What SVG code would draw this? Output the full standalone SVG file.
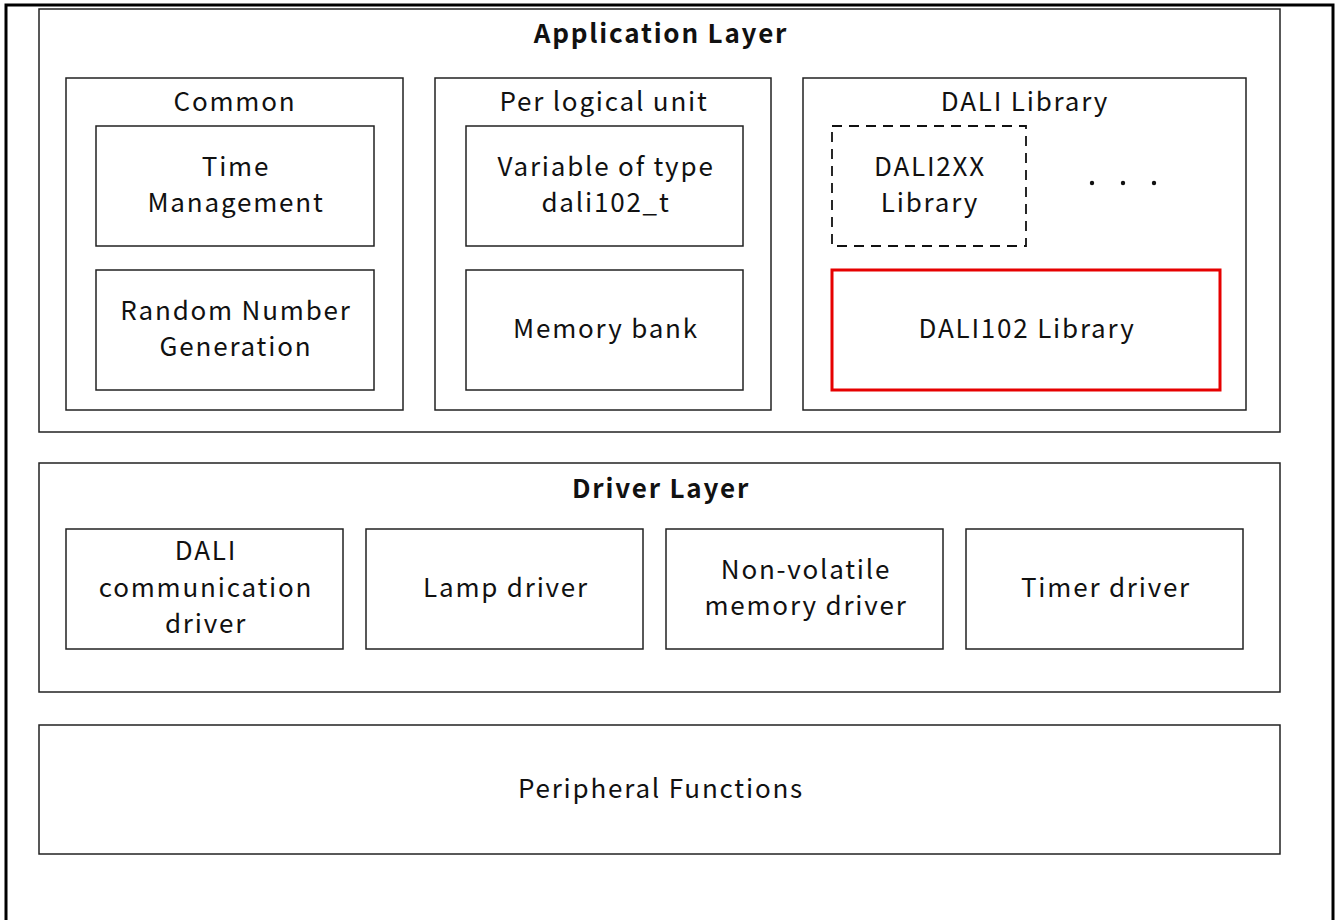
<svg xmlns="http://www.w3.org/2000/svg" width="1335" height="920" viewBox="0 0 1335 920">
<style>
.box{fill:#fff;stroke:#222;stroke-width:1.5}
.dash{fill:#fff;stroke:#111;stroke-width:1.8;stroke-dasharray:10,7}
.red{fill:#fff;stroke:#e60000;stroke-width:3}
text{font-family:"Noto Sans CJK JP","Noto Sans",sans-serif;font-size:26px;fill:#111;text-anchor:middle;letter-spacing:1.8px}
.b{font-weight:bold}
</style>
<rect width="1335" height="920" fill="#fff"/>
<rect x="6" y="5" width="1327" height="930" fill="none" stroke="#000" stroke-width="3"/>
<g id="app-layer">
<rect class="box" x="39" y="9" width="1241" height="423"/>
<text class="b" x="661" y="43">Application Layer</text>
</g>
<g id="common">
<rect class="box" x="66" y="78" width="337" height="332"/>
<text x="235" y="111">Common</text>
</g>
<g id="time-mgmt">
<rect class="box" x="96" y="126" width="278" height="120"/>
<text x="236" y="176">Time</text>
<text x="236" y="212">Management</text>
</g>
<g id="random">
<rect class="box" x="96" y="270" width="278" height="120"/>
<text x="236" y="320">Random Number</text>
<text x="236" y="356">Generation</text>
</g>
<g id="per-unit">
<rect class="box" x="435" y="78" width="336" height="332"/>
<text x="604" y="111">Per logical unit</text>
</g>
<g id="variable">
<rect class="box" x="466" y="126" width="277" height="120"/>
<text x="606" y="176">Variable of type</text>
<text x="606" y="212">dali102_t</text>
</g>
<g id="memory-bank">
<rect class="box" x="466" y="270" width="277" height="120"/>
<text x="606" y="338">Memory bank</text>
</g>
<g id="dali-library">
<rect class="box" x="803" y="78" width="443" height="332"/>
<text x="1025" y="111">DALI Library</text>
<circle cx="1092" cy="183" r="2.2" fill="#111"/>
<circle cx="1123" cy="183" r="2.2" fill="#111"/>
<circle cx="1154" cy="183" r="2.2" fill="#111"/>
</g>
<g id="dali2xx">
<rect class="dash" x="832" y="126" width="194" height="120"/>
<text x="930" y="176">DALI2XX</text>
<text x="930" y="212">Library</text>
</g>
<g id="dali102">
<rect class="red" x="832" y="270" width="388" height="120"/>
<text x="1027" y="338">DALI102 Library</text>
</g>
<g id="driver-layer">
<rect class="box" x="39" y="463" width="1241" height="229"/>
<text class="b" x="661" y="498">Driver Layer</text>
</g>
<g id="dali-comm">
<rect class="box" x="66" y="529" width="277" height="120"/>
<text x="206" y="560">DALI</text>
<text x="206" y="597">communication</text>
<text x="206" y="633">driver</text>
</g>
<g id="lamp">
<rect class="box" x="366" y="529" width="277" height="120"/>
<text x="506" y="597">Lamp driver</text>
</g>
<g id="nvm">
<rect class="box" x="666" y="529" width="277" height="120"/>
<text x="806" y="579">Non-volatile</text>
<text x="806" y="615">memory driver</text>
</g>
<g id="timer">
<rect class="box" x="966" y="529" width="277" height="120"/>
<text x="1106" y="597">Timer driver</text>
</g>
<g id="peripheral">
<rect class="box" x="39" y="725" width="1241" height="129"/>
<text x="661" y="798">Peripheral Functions</text>
</g>
<g id="connectors"/>
</svg>
